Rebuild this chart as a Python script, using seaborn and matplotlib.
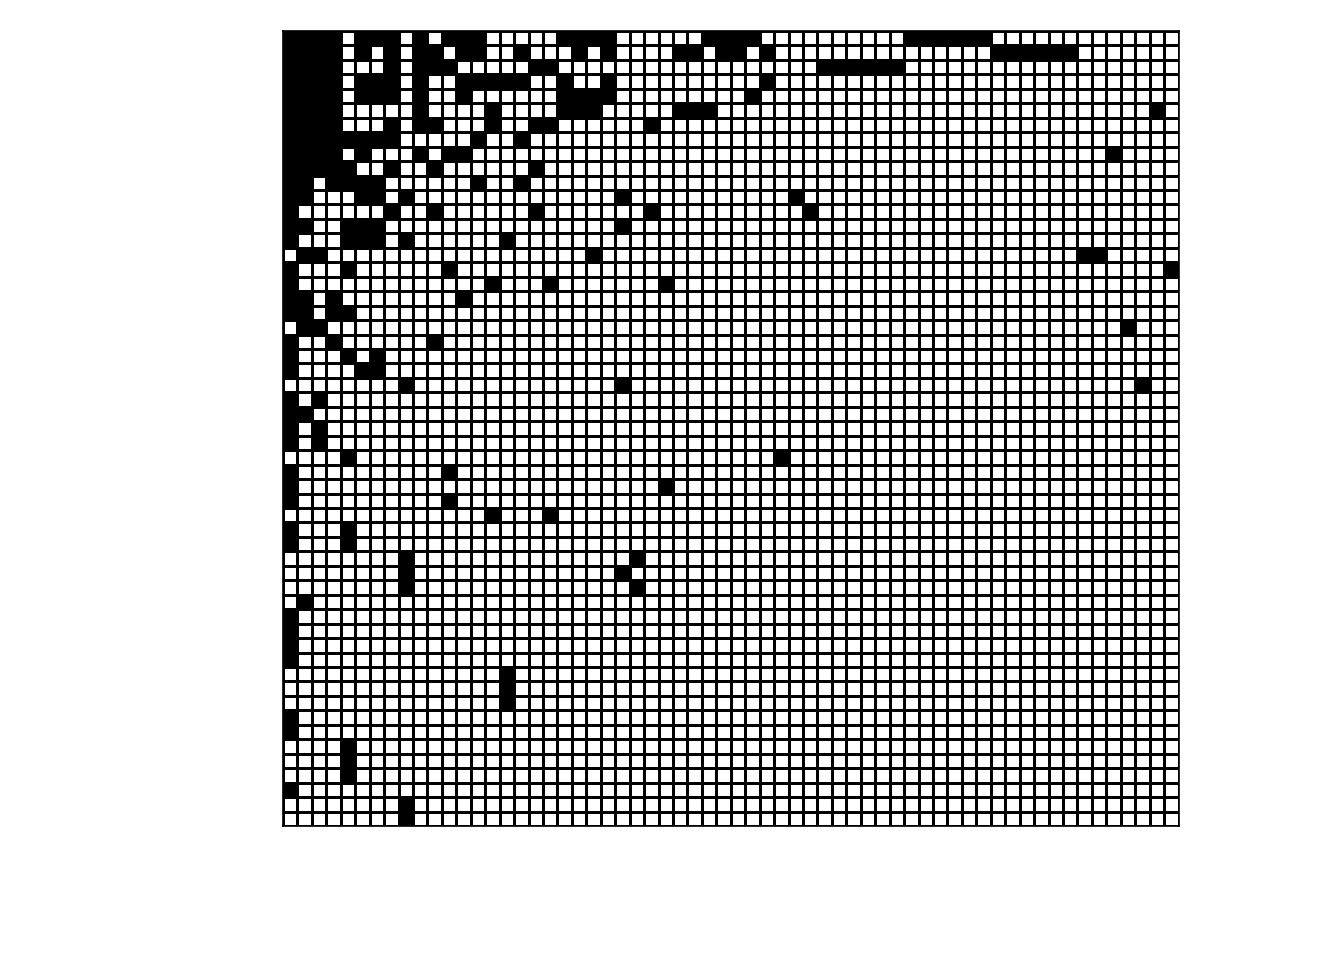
import numpy as np
import pandas as pd
import matplotlib
matplotlib.use("Agg")
import matplotlib.pyplot as plt
import seaborn as sns
from matplotlib.colors import ListedColormap

n_rows = 55
n_cols = 62
row_labels = [f"r{i + 1}" for i in range(n_rows)]
col_labels = [f"c{j + 1}" for j in range(n_cols)]

# column indices of filled (black) cells, one list per row (top to bottom)
black_cells = [
    [0, 1, 2, 3, 5, 6, 7, 9, 11, 12, 13, 19, 20, 21, 22, 29, 30, 31, 32, 43, 44, 45, 46, 47, 48],
    [0, 1, 2, 3, 5, 7, 9, 10, 12, 13, 16, 20, 22, 27, 28, 30, 31, 33, 49, 50, 51, 52, 53, 54],
    [0, 1, 2, 3, 7, 9, 10, 11, 17, 18, 37, 38, 39, 40, 41, 42],
    [0, 1, 2, 3, 5, 6, 7, 9, 12, 13, 14, 15, 16, 19, 22, 33],
    [0, 1, 2, 3, 5, 6, 7, 9, 12, 19, 20, 21, 22, 32],
    [0, 1, 2, 3, 9, 14, 19, 20, 21, 27, 28, 29, 60],
    [0, 1, 2, 3, 7, 9, 10, 14, 17, 18, 25],
    [0, 1, 2, 3, 4, 5, 6, 7, 13, 16],
    [0, 1, 2, 3, 5, 9, 11, 12, 57],
    [0, 1, 2, 3, 4, 7, 10, 17],
    [0, 1, 3, 4, 5, 6, 13, 16],
    [0, 1, 5, 6, 8, 23, 35],
    [0, 7, 10, 17, 25, 36],
    [0, 1, 4, 5, 6, 23],
    [0, 4, 5, 6, 8, 15],
    [1, 2, 21, 55, 56],
    [0, 4, 11, 61],
    [0, 14, 18, 26],
    [0, 1, 3, 12],
    [0, 1, 3, 4],
    [1, 2, 58],
    [0, 3, 10],
    [0, 4, 6],
    [0, 5, 6],
    [8, 23, 59],
    [0, 2],
    [0, 1],
    [0, 2],
    [0, 2],
    [4, 34],
    [0, 11],
    [0, 26],
    [0, 11],
    [14, 18],
    [0, 4],
    [0, 4],
    [8, 24],
    [8, 23],
    [8, 24],
    [1],
    [0],
    [0],
    [0],
    [0],
    [15],
    [15],
    [15],
    [0],
    [0],
    [4],
    [4],
    [4],
    [0],
    [8],
    [8],
]

matrix = np.zeros((n_rows, n_cols), dtype=int)
for r, cols in enumerate(black_cells):
    matrix[r, cols] = 1
df = pd.DataFrame(matrix, index=row_labels, columns=col_labels)

fig = plt.figure(figsize=(13.44, 9.6), dpi=100)
ax = fig.add_axes([0.2106, 0.1396, 0.6663, 0.8281])
sns.heatmap(df, ax=ax, cmap=ListedColormap(["white", "black"]), vmin=0, vmax=1,
            cbar=False, linewidths=1.0, linecolor="black",
            xticklabels=False, yticklabels=False, square=False)
ax.set_xlabel("")
ax.set_ylabel("")
ax.tick_params(left=False, bottom=False)
for s in ax.spines.values():
    s.set_visible(True)
    s.set_color("black")
    s.set_linewidth(1.2)
fig.savefig("out.png", dpi=100, facecolor="white")
